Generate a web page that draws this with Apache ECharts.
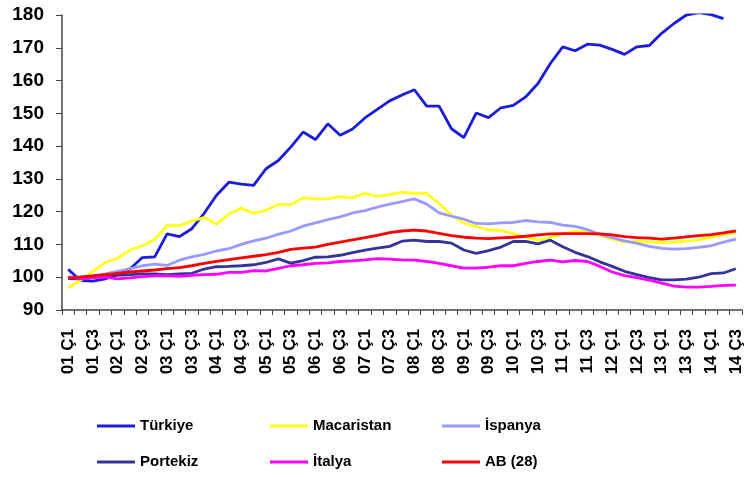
<!DOCTYPE html>
<html>
<head>
    <meta charset="utf-8">
    <title>Konut fiyat endeksi</title>
    <script src="https://cdn.jsdelivr.net/npm/echarts@6/dist/echarts.min.js"></script>
    <style>
        html, body { margin: 0; padding: 0; background: #fff; }
    </style>
</head>
<body>
    <div id="chart" style="width: 746px; height: 477px;"></div>

    <script type="text/javascript">
        // ceyrekler: 01 Ç1 ... 14 Ç3
        var years = ['01','02','03','04','05','06','07','08','09','10','11','12','13','14'];
        var quarters = ['Ç1','Ç2','Ç3','Ç4'];
        var categories = [];
        years.forEach(function (y) {
            quarters.forEach(function (q) { categories.push(y + ' ' + q); });
        });
        categories = categories.slice(0, 55);

        var turkiye = [102.4, 99, 98.8, 99.5, 101, 102.5, 106, 106.2, 113.2, 112.4,
            114.8, 119.5, 125, 129, 128.4, 128, 133.1, 135.6, 139.7, 144.3,
            142, 146.8, 143.3, 145.2, 148.6, 151.2, 153.8, 155.6, 157.2, 152.2,
            152.2, 145.3, 142.6, 150.1, 148.7, 151.7, 152.4, 155, 159.1, 165.2,
            170.3, 169.1, 171.1, 170.8, 169.5, 168, 170.3, 170.7, 174.4, 177.4,
            180, 180.7, 180.1, 178.9];
        var macaristan = [96.8, 99, 101.8, 104.5, 105.8, 108.3, 109.6, 111.5, 115.8, 115.7,
            117.2, 118.2, 116.2, 119.3, 121, 119.5, 120.5, 122.2, 122.1, 124.2,
            123.9, 124, 124.6, 124.2, 125.6, 124.7, 125.2, 125.9, 125.6, 125.6,
            122.5, 119, 116.5, 115.5, 114.4, 114.3, 113.3, 112.2, 111.3, 112.1,
            113.2, 114, 113.8, 112.8, 111.6, 110.8, 110.9, 110.8, 110.6, 110.7,
            111, 111.4, 112.2, 113, 113.6];
        var ispanya = [99.7, 100.2, 100.4, 101, 101.8, 102.6, 103.5, 104, 103.6, 105.2,
            106.2, 107, 108, 108.7, 110, 111.1, 111.9, 113.1, 114.1, 115.6,
            116.6, 117.6, 118.4, 119.6, 120.3, 121.4, 122.3, 123.1, 123.9, 122.3,
            119.6, 118.6, 117.7, 116.4, 116.3, 116.6, 116.7, 117.3, 116.9, 116.7,
            115.9, 115.5, 114.5, 113.1, 112.1, 111.1, 110.3, 109.4, 108.8, 108.6,
            108.7, 109.1, 109.6, 110.7, 111.6];
        var portekiz = [99.6, 99.5, 100, 100.3, 100.6, 100.8, 101, 101, 100.8, 101,
            101.2, 102.5, 103.2, 103.3, 103.5, 103.8, 104.5, 105.6, 104.3, 105.1,
            106.1, 106.2, 106.7, 107.5, 108.3, 108.9, 109.4, 111, 111.3, 110.9,
            110.9, 110.4, 108.3, 107.3, 108.1, 109.2, 110.9, 110.9, 110.2, 111.3,
            109.3, 107.6, 106.3, 104.7, 103.3, 101.8, 100.8, 99.9, 99.2, 99.2,
            99.4, 100, 101.1, 101.3, 102.6];
        var italya = [100, 99.6, 99.8, 100, 99.5, 99.8, 100.2, 100.4, 100.5, 100.3,
            100.6, 100.8, 100.9, 101.5, 101.5, 102, 101.9, 102.7, 103.5, 103.8,
            104.2, 104.4, 104.8, 105, 105.3, 105.7, 105.5, 105.3, 105.2, 104.8,
            104.2, 103.5, 102.8, 102.8, 103.1, 103.5, 103.5, 104.2, 104.8, 105.2,
            104.7, 105.1, 104.8, 103.3, 101.6, 100.5, 99.9, 99.1, 98.2, 97.3,
            97, 97, 97.2, 97.5, 97.6];
        var ab28 = [99.7, 100, 100.4, 100.8, 101.2, 101.6, 101.9, 102.2, 102.6, 102.9,
            103.5, 104.2, 104.8, 105.4, 105.9, 106.4, 106.9, 107.6, 108.5, 108.9,
            109.2, 110, 110.7, 111.4, 112.1, 112.8, 113.6, 114.1, 114.4, 114.1,
            113.4, 112.7, 112.2, 111.9, 111.8, 112, 112.2, 112.5, 112.9, 113.2,
            113.3, 113.3, 113.3, 113.2, 112.9, 112.4, 112.1, 111.9, 111.6, 111.9,
            112.3, 112.7, 113, 113.5, 114.1];

        var seriesNames = ['Türkiye', 'Macaristan', 'İspanya', 'Portekiz', 'İtalya', 'AB (28)'];
        var seriesData = [turkiye, macaristan, ispanya, portekiz, italya, ab28];
        var colors = ['#1c1cdc', '#ffff1a', '#9999ff', '#333399', '#ff00ff', '#ff0000'];

        var font = '"Liberation Sans", Arial, sans-serif';

        var series = [];
        for (var i = 0; i < seriesNames.length; i++) {
            series.push({
                name: seriesNames[i],
                type: 'line',
                data: seriesData[i],
                symbol: 'none',
                smooth: false,
                lineStyle: { width: 2.8, color: colors[i] },
                itemStyle: { color: colors[i] }
            });
        }

        // one legend per entry, 3 columns x 2 rows
        var legendLeft = [97, 270, 442];
        var legendTop = [418, 454];
        var legends = [];
        for (var k = 0; k < seriesNames.length; k++) {
            legends.push({
                left: legendLeft[k % 3],
                top: legendTop[Math.floor(k / 3)],
                padding: 0,
                icon: 'rect',
                itemWidth: 38,
                itemHeight: 3,
                data: [seriesNames[k]],
                textStyle: { fontFamily: font, fontWeight: 'bold', fontSize: 15, color: '#000', lineHeight: 16 }
            });
        }

        var myChart = echarts.init(document.getElementById('chart'));

        var option = {
            animation: false,
            color: colors,
            grid: { left: 62, right: 4, top: 15, bottom: 167, containLabel: false },
            legend: legends,
            xAxis: {
                type: 'category',
                data: categories,
                boundaryGap: true,
                axisLine: { lineStyle: { color: '#444', width: 1.5 } },
                axisTick: { show: true, interval: 0, length: 5, lineStyle: { color: '#444' } },
                axisLabel: {
                    interval: 1,
                    rotate: 90,
                    margin: 19,
                    fontFamily: font,
                    fontWeight: 'bold',
                    fontSize: 17,
                    color: '#000'
                },
                splitLine: { show: false }
            },
            yAxis: {
                type: 'value',
                min: 90,
                max: 180,
                interval: 10,
                axisLine: { show: true, lineStyle: { color: '#444', width: 1.5 } },
                axisTick: { show: true, length: 6, lineStyle: { color: '#444' } },
                axisLabel: {
                    margin: 18,
                    fontFamily: font,
                    fontWeight: 'bold',
                    fontSize: 19,
                    color: '#000'
                },
                splitLine: { show: false }
            },
            series: series
        };

        myChart.setOption(option);
    </script>
</body>
</html>
